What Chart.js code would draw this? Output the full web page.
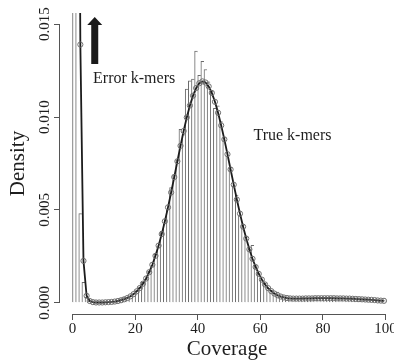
<!DOCTYPE html>
<html>
<head>
<meta charset="utf-8">
<style>
  html, body { margin: 0; padding: 0; background: #fff; }
</style>
<script src="https://cdn.jsdelivr.net/npm/chart.js@4.4.1/dist/chart.umd.min.js"></script>
</head>
<body>
<canvas id="chart" width="394" height="361"></canvas>
<script>
/* k-mer coverage histogram with fitted mixture (error + true k-mers) */

// histogram bins: bar k covers coverage (k-1, k]
const COVERAGE = [
  1, 2, 3, 4, 5, 6, 7, 8, 9, 10,
  11, 12, 13, 14, 15, 16, 17, 18, 19, 20,
  21, 22, 23, 24, 25, 26, 27, 28, 29, 30,
  31, 32, 33, 34, 35, 36, 37, 38, 39, 40,
  41, 42, 43, 44, 45, 46, 47, 48, 49, 50,
  51, 52, 53, 54, 55, 56, 57, 58, 59, 60,
  61, 62, 63, 64, 65, 66, 67, 68, 69, 70,
  71, 72, 73, 74, 75, 76, 77, 78, 79, 80,
  81, 82, 83, 84, 85, 86, 87, 88, 89, 90,
  91, 92, 93, 94, 95, 96, 97, 98, 99, 100
];

// observed density (histogram bars)
const OBSERVED = [
  0.0600, 0.0300, 0.0048, 0.0011, 0.00030, 0.00010, 0.00005, 0.00004, 0.00004, 0.00005,
  0.00005, 0.00006, 0.00008, 0.00010, 0.00014, 0.00022, 0.00028, 0.00030, 0.00036, 0.00050,
  0.00066, 0.00082, 0.00110, 0.00128, 0.00170, 0.00200, 0.00262, 0.00300, 0.00385, 0.00430,
  0.00505, 0.00620, 0.00690, 0.00770, 0.00934, 0.00905, 0.01150, 0.01195, 0.01205, 0.01355,
  0.01225, 0.01300, 0.01256, 0.01190, 0.01140, 0.01047, 0.01060, 0.00975, 0.00890, 0.00790,
  0.00730, 0.00630, 0.00580, 0.00470, 0.00420, 0.00355, 0.00290, 0.00310, 0.00200, 0.00160,
  0.00125, 0.00105, 0.00078, 0.00068, 0.00052, 0.00058, 0.00036, 0.00030, 0.00028, 0.00026,
  0.00027, 0.00024, 0.00025, 0.00028, 0.00026, 0.00025, 0.00027, 0.00029, 0.00026, 0.00028,
  0.00027, 0.00026, 0.00028, 0.00025, 0.00027, 0.00024, 0.00026, 0.00025, 0.00023, 0.00024,
  0.00022, 0.00021, 0.00022, 0.00019, 0.00018, 0.00019, 0.00016, 0.00015, 0.00014, 0.00012
];

// fitted model density (line with circles)
const FITTED = [
  0.0950, 0.0450, 0.0139, 0.00226, 0.00038, 0.00010, 0.00004, 0.00002, 0.00002, 0.00002,
  0.00003, 0.00004, 0.00005, 0.00007, 0.00010, 0.00014, 0.00019, 0.00026, 0.00035, 0.00047,
  0.00062, 0.00080, 0.00103, 0.00131, 0.00165, 0.00205, 0.00253, 0.00308, 0.00370, 0.00439,
  0.00514, 0.00594, 0.00677, 0.00762, 0.00845, 0.00925, 0.00998, 0.01062, 0.01115, 0.01156,
  0.01182, 0.01192, 0.01186, 0.01165, 0.01130, 0.01082, 0.01023, 0.00955, 0.00880, 0.00800,
  0.00718, 0.00636, 0.00556, 0.00480, 0.00410, 0.00346, 0.00288, 0.00237, 0.00193, 0.00156,
  0.00125, 0.00099, 0.00079, 0.00063, 0.00050, 0.00041, 0.00034, 0.00029, 0.00026, 0.00024,
  0.00023, 0.00023, 0.00023, 0.00023, 0.00024, 0.00024, 0.00024, 0.00025, 0.00025, 0.00025,
  0.00025, 0.00025, 0.00025, 0.00025, 0.00024, 0.00024, 0.00024, 0.00023, 0.00023, 0.00022,
  0.00021, 0.00020, 0.00019, 0.00018, 0.00017, 0.00016, 0.00015, 0.00013, 0.00012, 0.00011
];

const X_TICKS = [0, 20, 40, 60, 80, 100];
const Y_TICKS = [0, 0.005, 0.010, 0.015];

// annotations (data units)
const ARROW = { x: 7.1, tip: 0.01538, head: 0.01495, tail: 0.01285 };
const NOTES = [
  { text: "Error k-mers", x: 6.55, y: 0.01185 },
  { text: "True k-mers", x: 57.8, y: 0.00876 }
];

const FONT = '"Liberation Serif", "DejaVu Serif", serif';
const TEXT = "#1e1e1e";
const AXIS = "#555555";
const BAR_LINE = "#6a6a6a";

// bar k sits on (k-1, k]
const binCenter = (k) => k - 0.5;

// R-style axis lines: only from first to last tick
const axisLines = {
  id: "axisLines",
  afterDraw(chart) {
    const { ctx, chartArea, scales: { x, y } } = chart;
    ctx.save();
    ctx.strokeStyle = AXIS;
    ctx.lineWidth = 1;
    ctx.beginPath();
    const yb = Math.round(chartArea.bottom) + 0.5;
    ctx.moveTo(x.getPixelForValue(X_TICKS[0]), yb);
    ctx.lineTo(x.getPixelForValue(X_TICKS[X_TICKS.length - 1]), yb);
    const xl = Math.round(chartArea.left) - 0.5;
    ctx.moveTo(xl, y.getPixelForValue(Y_TICKS[0]));
    ctx.lineTo(xl, y.getPixelForValue(Y_TICKS[Y_TICKS.length - 1]));
    ctx.stroke();
    ctx.restore();
  }
};

// arrow + text labels
const notes = {
  id: "notes",
  afterDatasetsDraw(chart) {
    const { ctx, scales: { x, y } } = chart;
    ctx.save();
    const ax = x.getPixelForValue(ARROW.x);
    const tip = y.getPixelForValue(ARROW.tip);
    const base = y.getPixelForValue(ARROW.head);
    const tail = y.getPixelForValue(ARROW.tail);
    ctx.fillStyle = "#1a1a1a";
    ctx.beginPath();
    ctx.moveTo(ax, tip);
    ctx.lineTo(ax + 7.5, base);
    ctx.lineTo(ax + 3.5, base);
    ctx.lineTo(ax + 3.5, tail);
    ctx.lineTo(ax - 3.5, tail);
    ctx.lineTo(ax - 3.5, base);
    ctx.lineTo(ax - 7.5, base);
    ctx.closePath();
    ctx.fill();

    ctx.font = "16px " + FONT;
    ctx.fillStyle = TEXT;
    ctx.textAlign = "left";
    ctx.textBaseline = "alphabetic";
    NOTES.forEach((n) => {
      ctx.fillText(n.text, x.getPixelForValue(n.x), y.getPixelForValue(n.y));
    });
    ctx.restore();
  }
};

new Chart(document.getElementById("chart"), {
  type: "bar",
  data: {
    datasets: [
      {
        type: "line",
        data: COVERAGE.map((k, i) => ({ x: binCenter(k), y: FITTED[i] })),
        borderColor: "#1c1c1c",
        borderWidth: 1.8,
        tension: 0,
        pointRadius: 2.6,
        pointBorderColor: "#6e6e6e",
        pointBackgroundColor: "rgba(255,255,255,0)",
        pointBorderWidth: 1,
        order: 1
      },
      {
        type: "bar",
        data: COVERAGE.map((k, i) => ({ x: binCenter(k), y: OBSERVED[i] })),
        backgroundColor: "#ffffff",
        borderColor: BAR_LINE,
        borderWidth: { top: 1, left: 1, right: 0, bottom: 0 },
        borderSkipped: false,
        barPercentage: 1,
        categoryPercentage: 1,
        order: 2
      }
    ]
  },
  options: {
    responsive: false,
    devicePixelRatio: 1,
    animation: false,
    layout: { autoPadding: false, padding: { top: 13, right: 0, bottom: 0, left: 0 } },
    plugins: {
      legend: { display: false },
      tooltip: { enabled: false }
    },
    scales: {
      x: {
        type: "linear",
        offset: false,
        min: -4,
        max: 102.7,
        afterBuildTicks: (s) => { s.ticks = X_TICKS.map((v) => ({ value: v })); },
        afterFit: (s) => { s.height = 47; s.paddingLeft = 0; s.paddingRight = 0; },
        ticks: {
          color: TEXT,
          font: { family: FONT, size: 15 },
          padding: 0,
          maxRotation: 0,
          autoSkip: false,
          callback: (v) => String(v)
        },
        grid: { offset: false, drawOnChartArea: false, drawTicks: true, tickLength: 6, color: AXIS, lineWidth: 1 },
        border: { display: false },
        title: {
          display: true,
          text: "Coverage",
          color: TEXT,
          font: { family: FONT, size: 21 },
          padding: { top: 0, bottom: -1 }
        }
      },
      y: {
        type: "linear",
        min: -0.0006,
        max: 0.0156,
        afterBuildTicks: (s) => { s.ticks = Y_TICKS.map((v) => ({ value: v })); },
        afterFit: (s) => { s.width = 60; s.paddingTop = 0; s.paddingBottom = 0; },
        ticks: {
          color: TEXT,
          font: { family: FONT, size: 15 },
          minRotation: 90,
          maxRotation: 90,
          crossAlign: "center",
          padding: -8,
          callback: (v) => v.toFixed(3)
        },
        grid: { drawOnChartArea: false, drawTicks: true, tickLength: 6, color: AXIS, lineWidth: 1 },
        border: { display: false },
        title: {
          display: true,
          text: "Density",
          color: TEXT,
          font: { family: FONT, size: 21 },
          padding: { top: 6, bottom: 0 }
        }
      }
    }
  },
  plugins: [axisLines, notes]
});
</script>
</body>
</html>
